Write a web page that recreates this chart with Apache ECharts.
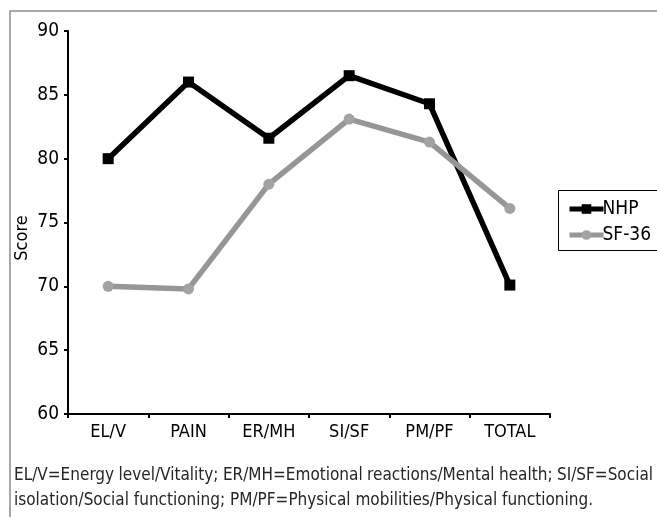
<!DOCTYPE html>
<html><head><meta charset="utf-8">
<script src="https://cdn.jsdelivr.net/npm/echarts@6/dist/echarts.min.js"></script>
<style>html,body{margin:0;padding:0;background:#fff}#c{width:657px;height:517px}</style>
</head><body><div id="c"></div>
<script>
const categories = ['EL/V','PAIN','ER/MH','SI/SF','PM/PF','TOTAL'];
const nhp = [80.0, 86.0, 81.6, 86.5, 84.3, 70.1];
const sf36 = [70.0, 69.8, 78.0, 83.1, 81.3, 76.1];
const yTicks = [60, 65, 70, 75, 80, 85, 90];
const captionLine1 = 'EL/V=Energy level/Vitality; ER/MH=Emotional reactions/Mental health; SI/SF=Social';
const captionLine2 = 'isolation/Social functioning; PM/PF=Physical mobilities/Physical functioning.';

const FONT = "'DejaVu Sans Condensed', 'Liberation Sans Narrow', sans-serif";
const chart = echarts.init(document.getElementById('c'), null, {renderer:'canvas'});

const ctx = document.createElement('canvas').getContext('2d');
const capSize = 17;
ctx.font = capSize + 'px ' + FONT;
const words = captionLine1.split(' ');
const x0 = 14, x1 = 653;
const widths = words.map(w => ctx.measureText(w).width);
const total = widths.reduce((a,b)=>a+b,0);
const gap = (x1 - x0 - total) / (words.length - 1);
const graphics = [
  {type:'rect', shape:{x:10, y:11, width:700, height:600},
   style:{fill:'none', stroke:'#8c8c8c', lineWidth:1.5}, silent:true},
  {type:'rect', shape:{x:558.5, y:190.5, width:100, height:60},
   style:{fill:'none', stroke:'#000', lineWidth:1}, silent:true},
  {type:'text', x:22, y:238, rotation:Math.PI/2,
   style:{text:'Score', font:'18px '+FONT, fill:'#000', align:'center', verticalAlign:'middle'}}
];
let cx = x0;
words.forEach((w,i)=>{
  graphics.push({type:'text', x:cx, y:476, style:{text:w, font: capSize+'px '+FONT, fill:'#262626', verticalAlign:'middle'}});
  cx += widths[i] + gap;
});
graphics.push({type:'text', x:x0, y:501, style:{text:captionLine2, font: capSize+'px '+FONT, fill:'#262626', verticalAlign:'middle'}});

chart.setOption({
  animation:false,
  backgroundColor:'#fff',
  textStyle:{fontFamily:FONT},
  graphic: graphics,
  grid:{left:68, top:31, right:107, bottom:103, containLabel:false},
  legend:{
    orient:'vertical', left:567, top:199, padding:0,
    data:['NHP','SF-36'],
    itemWidth:34, itemHeight:12, itemGap:6,
    lineStyle:{width:5},
    textStyle:{fontSize:19, lineHeight:20, color:'#000', fontFamily:FONT, padding:[0,0,0,-6]}
  },
  xAxis:{
    type:'category', data:categories, boundaryGap:true,
    axisLine:{lineStyle:{color:'#000', width:2}},
    axisTick:{show:true, length:4, lineStyle:{color:'#000', width:2}},
    axisLabel:{fontSize:18, color:'#000', margin:9, fontFamily:FONT}
  },
  yAxis:{
    type:'value', min:60, max:90, interval:5,
    axisLine:{show:true, lineStyle:{color:'#000', width:2}},
    axisTick:{show:true, length:4, lineStyle:{color:'#000', width:2}},
    splitLine:{show:false},
    axisLabel:{fontSize:19, color:'#000', margin:9, fontFamily:FONT,
      formatter: v => yTicks.includes(v) ? String(v) : ''}
  },
  series:[
    {name:'NHP', type:'line', data:nhp, symbol:'rect', symbolSize:11,
     lineStyle:{color:'#000', width:5.5}, itemStyle:{color:'#000'}},
    {name:'SF-36', type:'line', data:sf36, symbol:'circle', symbolSize:11,
     lineStyle:{color:'#969696', width:5.5}, itemStyle:{color:'#a3a3a3'}}
  ]
});
</script></body></html>
